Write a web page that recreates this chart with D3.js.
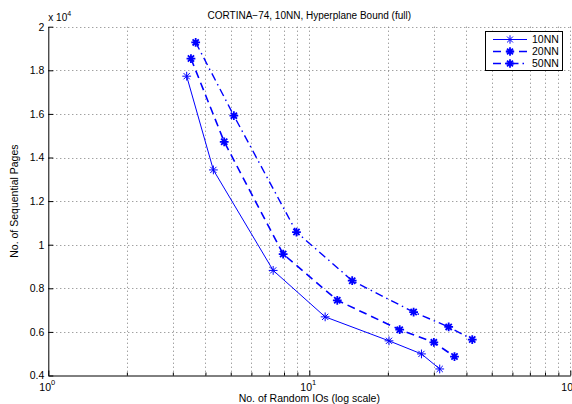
<!DOCTYPE html>
<html>
<head>
<meta charset="utf-8">
<script src="https://cdn.jsdelivr.net/npm/d3@7"></script>
<style>
  html, body { margin: 0; padding: 0; background: #fff; }
  svg { display: block; font-family: "Liberation Sans", Arial, Helvetica, sans-serif; }
</style>
</head>
<body>
<svg id="chart" width="572" height="404"></svg>
<script>
// Random IOs (x) vs sequential pages (y) for three k-NN settings
const seriesNames = ["10NN", "20NN", "50NN"];
const randomIOs = [
  [3.39, 4.29, 7.27, 11.5, 20.2, 26.9, 31.6],
  [3.52, 4.72, 7.94, 12.8, 22.2, 30.0, 36.0],
  [3.67, 5.14, 8.93, 14.6, 25.1, 34.2, 42.1]
];
const seqPages = [
  [17730, 13430, 8820, 6690, 5590, 4990, 4300],
  [18540, 14720, 9570, 7450, 6100, 5520, 4870],
  [19280, 15920, 10580, 8350, 6910, 6230, 5650]
];
const yTicks = [4000, 6000, 8000, 10000, 12000, 14000, 16000, 18000, 20000];
const xMajorTicks = [1, 10, 100];
const titleText = "CORTINA\u221274, 10NN, Hyperplane Bound (full)";
const xLabelText = "No. of Random IOs (log scale)";
const yLabelText = "No. of Sequential Pages";

const svg = d3.select("#chart");
const plotLeft = 48.3, plotRight = 570.3, plotTop = 26.7, plotBottom = 375.5;

const x = d3.scaleLog().domain([1, 100]).range([plotLeft, plotRight]);
const y = d3.scaleLinear().domain([4000, 20000]).range([plotBottom, plotTop]);

const xMinor = [];
for (let d = 1; d < 100; d *= 10) for (let k = 2; k <= 9; k++) xMinor.push(d * k);

const grid = svg.append("g")
  .attr("stroke", "#7a7a7a").attr("stroke-width", 1)
  .attr("stroke-dasharray", "1,3").attr("fill", "none");
grid.selectAll("line.gx")
  .data(xMinor.concat(xMajorTicks.slice(1)))
  .join("line")
  .attr("x1", d => Math.round(x(d)) + 0.5).attr("x2", d => Math.round(x(d)) + 0.5)
  .attr("y1", plotTop).attr("y2", plotBottom);
grid.selectAll("line.gy")
  .data(yTicks.slice(1))
  .join("line")
  .attr("x1", plotLeft).attr("x2", plotRight)
  .attr("y1", d => Math.round(y(d)) + 0.5).attr("y2", d => Math.round(y(d)) + 0.5);

// Axes: inward ticks, left and bottom only
const xAxis = d3.axisBottom(x).tickValues(xMajorTicks).tickSizeInner(-5).tickSizeOuter(0).tickFormat(() => "");
const xAxisMinor = d3.axisBottom(x).tickValues(xMinor).tickSizeInner(-3).tickSizeOuter(0).tickFormat(() => "");
const yAxis = d3.axisLeft(y).tickValues(yTicks).tickSizeInner(-5).tickSizeOuter(0)
  .tickFormat(d => d3.format("")(+(d / 10000).toFixed(1)));

const gx = svg.append("g").attr("transform", `translate(0,${plotBottom})`).call(xAxis);
svg.append("g").attr("transform", `translate(0,${plotBottom})`).call(xAxisMinor).select(".domain").remove();
const gy = svg.append("g").attr("transform", `translate(${plotLeft},0)`).call(yAxis);

[gx, gy].forEach(g => {
  g.select(".domain").attr("stroke", "#000").attr("stroke-width", 1);
});
svg.selectAll(".tick line").attr("stroke", "#000");
gy.selectAll(".tick text").attr("x", -4).attr("font-size", 10.5).attr("fill", "#000")
  .attr("font-family", "Liberation Sans, Arial, sans-serif");

// Power-of-ten tick labels
const xl = svg.append("g").attr("font-size", 10.5).attr("fill", "#000");
xMajorTicks.forEach(v => {
  const t = xl.append("text").attr("x", x(v) - 1).attr("y", 390.5).attr("text-anchor", "middle");
  t.append("tspan").text("10");
  t.append("tspan").attr("dy", -6).attr("font-size", 7.5).text(Math.round(Math.log10(v)));
});

// Exponent label above the y axis
const ex = svg.append("text").attr("x", plotLeft).attr("y", 21).attr("font-size", 10).attr("fill", "#000");
ex.append("tspan").text("x 10");
ex.append("tspan").attr("dy", -5).attr("font-size", 7).text("4");

svg.append("text").attr("x", (plotLeft + plotRight) / 2).attr("y", 18.5)
  .attr("text-anchor", "middle").attr("font-size", 10).attr("fill", "#000").text(titleText);
svg.append("text").attr("x", (plotLeft + plotRight) / 2).attr("y", 402)
  .attr("text-anchor", "middle").attr("font-size", 10.5).attr("fill", "#000").text(xLabelText);
svg.append("text").attr("transform", `translate(18,${(plotTop + plotBottom) / 2}) rotate(-90)`)
  .attr("text-anchor", "middle").attr("font-size", 10.5).attr("fill", "#000").text(yLabelText);

// Series styles
const styles = [
  { width: 1, dash: null, mark: 1 },
  { width: 1.6, dash: "8,5", mark: 1.8 },
  { width: 1.4, dash: "8,4,1.5,4", mark: 1.8 }
];
const blue = "#0000ff";

function asterisk(r) {
  const d = r * Math.SQRT1_2;
  return `M${-r},0L${r},0M0,${-r}L0,${r}M${-d},${-d}L${d},${d}M${-d},${d}L${d},${-d}`;
}

const line = d3.line().x(p => x(p[0])).y(p => y(p[1]));

seriesNames.forEach((name, i) => {
  const pts = randomIOs[i].map((v, j) => [v, seqPages[i][j]]);
  const st = styles[i];
  svg.append("path").datum(pts).attr("d", line)
    .attr("fill", "none").attr("stroke", blue).attr("stroke-width", st.width)
    .attr("stroke-dasharray", st.dash);
  svg.append("g").selectAll("path").data(pts).join("path")
    .attr("transform", p => `translate(${x(p[0])},${y(p[1])})`)
    .attr("d", asterisk(4.4)).attr("fill", "none")
    .attr("stroke", blue).attr("stroke-width", st.mark);
});

// Legend
const lg = svg.append("g");
lg.append("rect").attr("x", 485.5).attr("y", 31.5).attr("width", 77).attr("height", 39)
  .attr("fill", "#fff").attr("stroke", "#000").attr("stroke-width", 1);
seriesNames.forEach((name, i) => {
  const st = styles[i];
  const yy = 39.5 + i * 12;
  lg.append("line").attr("x1", 493).attr("x2", 527).attr("y1", yy).attr("y2", yy)
    .attr("stroke", blue).attr("stroke-width", st.width).attr("stroke-dasharray", st.dash);
  lg.append("path").attr("transform", `translate(510,${yy})`).attr("d", asterisk(4.2))
    .attr("fill", "none").attr("stroke", blue).attr("stroke-width", st.mark);
  lg.append("text").attr("x", 532).attr("y", yy + 3.8).attr("font-size", 10.5).attr("fill", "#000").text(name);
});
</script>
</body>
</html>
